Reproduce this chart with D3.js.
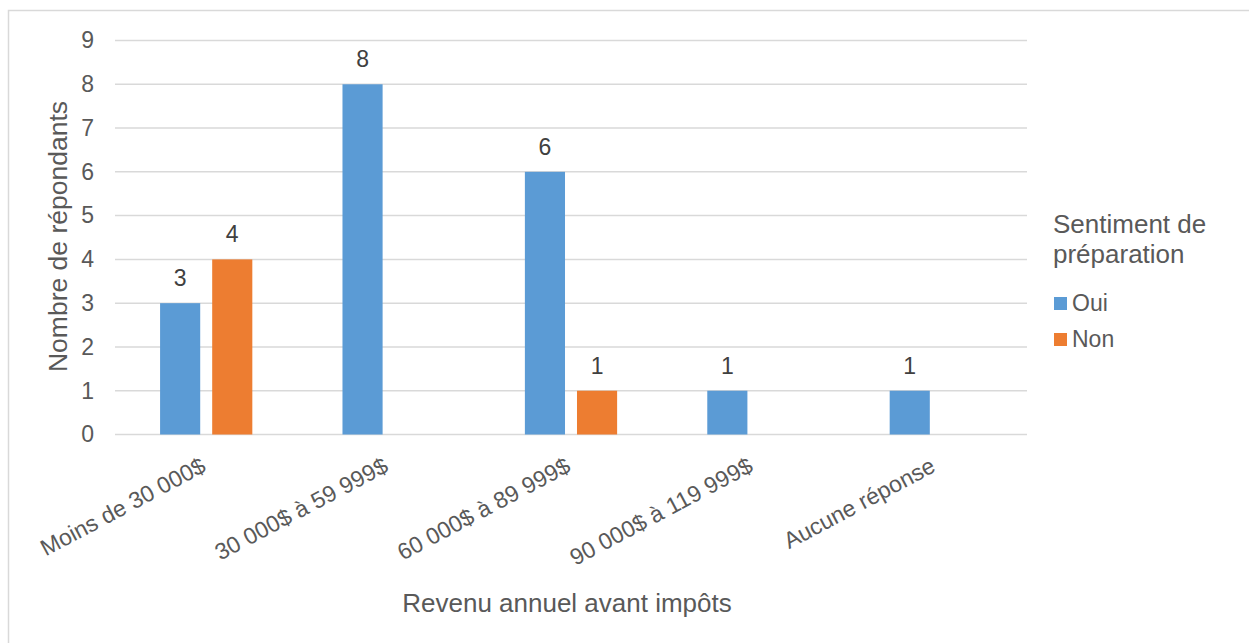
<!DOCTYPE html>
<html>
<head>
<meta charset="utf-8">
<script src="https://cdn.jsdelivr.net/npm/d3@7"></script>
<style>
  body { margin: 0; background: #fff; }
  svg { font-family: "Liberation Sans", Arial, sans-serif; }
</style>
</head>
<body>
<div id="chart"></div>
<script>
// categories and values
const categories = ["Moins de 30 000$", "30 000$ à 59 999$", "60 000$ à 89 999$", "90 000$ à 119 999$", "Aucune réponse"];
const series = ["Oui", "Non"];
const ouiValues = [3, 8, 6, 1, 1];
const nonValues = [4, null, 1, null, null];
const yTicks = [0, 1, 2, 3, 4, 5, 6, 7, 8, 9];
const colors = ["#5B9BD5", "#ED7D31"];

const width = 1249, height = 643;
const plot = { left: 115, right: 1027, top: 40.5, bottom: 434.5 };

const svg = d3.select("#chart").append("svg")
  .attr("width", width)
  .attr("height", height);

// chart border
svg.append("rect")
  .attr("x", 8.5).attr("y", 10.5)
  .attr("width", 1260).attr("height", 660)
  .attr("fill", "#fff")
  .attr("stroke", "#D9D9D9")
  .attr("stroke-width", 1.5);

const x0 = d3.scaleBand()
  .domain(categories)
  .range([plot.left, plot.right])
  .padding(0);

const x1 = d3.scaleBand()
  .domain(series)
  .range([0, x0.bandwidth()])
  .paddingInner(0.23)
  .paddingOuter(0.865);

const y = d3.scaleLinear()
  .domain([0, 9])
  .range([plot.bottom, plot.top]);

// gridlines
svg.append("g")
  .selectAll("line")
  .data(yTicks)
  .join("line")
  .attr("x1", plot.left)
  .attr("x2", plot.right)
  .attr("y1", d => y(d))
  .attr("y2", d => y(d))
  .attr("stroke", "#D9D9D9")
  .attr("stroke-width", 1.5);

// y axis labels
const yAxis = svg.append("g")
  .attr("transform", `translate(${plot.left - 21},0)`)
  .call(d3.axisLeft(y).tickValues(yTicks).tickSize(0).tickPadding(0));
yAxis.select(".domain").remove();
yAxis.attr("font-size", null).attr("font-family", null);
yAxis.selectAll("text")
  .attr("font-size", "23px")
  .attr("fill", "#595959");

// bars
const rows = categories.map((c, i) => ({ cat: c, vals: [ouiValues[i], nonValues[i]] }));

const groups = svg.append("g")
  .selectAll("g")
  .data(rows)
  .join("g")
  .attr("transform", d => `translate(${x0(d.cat)},0)`);

groups.selectAll("rect")
  .data(d => series.map((s, j) => ({ s, j, v: d.vals[j] })).filter(e => e.v != null))
  .join("rect")
  .attr("x", e => x1(e.s))
  .attr("width", x1.bandwidth())
  .attr("y", e => y(e.v))
  .attr("height", e => y(0) - y(e.v))
  .attr("fill", e => colors[e.j]);

groups.selectAll("text")
  .data(d => series.map((s, j) => ({ s, j, v: d.vals[j] })).filter(e => e.v != null))
  .join("text")
  .attr("x", e => x1(e.s) + x1.bandwidth() / 2)
  .attr("y", e => y(e.v) - 17)
  .attr("text-anchor", "middle")
  .attr("font-size", "23px")
  .attr("fill", "#404040")
  .text(e => e.v);

// category labels (rotated)
svg.append("g")
  .selectAll("text")
  .data(categories)
  .join("text")
  .attr("transform", d => `translate(${x0(d) + x0.bandwidth() / 2 - 7},${plot.bottom + 21}) rotate(-28)`)
  .attr("text-anchor", "end")
  .attr("dy", "0.75em")
  .attr("font-size", "23px")
  .attr("fill", "#595959")
  .text(d => d);

// axis titles
svg.append("text")
  .attr("x", 567)
  .attr("y", 612)
  .attr("text-anchor", "middle")
  .attr("font-size", "26px")
  .attr("fill", "#595959")
  .text("Revenu annuel avant impôts");

svg.append("text")
  .attr("transform", `translate(67,${(plot.top + plot.bottom) / 2 - 1}) rotate(-90)`)
  .attr("text-anchor", "middle")
  .attr("font-size", "26.5px")
  .attr("fill", "#595959")
  .text("Nombre de répondants");

// legend
const legend = svg.append("g").attr("transform", "translate(1053,0)");
legend.append("text")
  .attr("x", 0).attr("y", 233)
  .attr("font-size", "26px")
  .attr("fill", "#595959")
  .text("Sentiment de");
legend.append("text")
  .attr("x", 0).attr("y", 263)
  .attr("font-size", "26px")
  .attr("fill", "#595959")
  .text("préparation");

const items = legend.selectAll("g.item")
  .data(series)
  .join("g")
  .attr("class", "item")
  .attr("transform", (d, i) => `translate(0,${311 + i * 36})`);
items.append("rect")
  .attr("x", 1).attr("y", -14)
  .attr("width", 13).attr("height", 13)
  .attr("fill", (d, i) => colors[i]);
items.append("text")
  .attr("x", 19).attr("y", 0)
  .attr("font-size", "23px")
  .attr("fill", "#595959")
  .text(d => d);
</script>
</body>
</html>
